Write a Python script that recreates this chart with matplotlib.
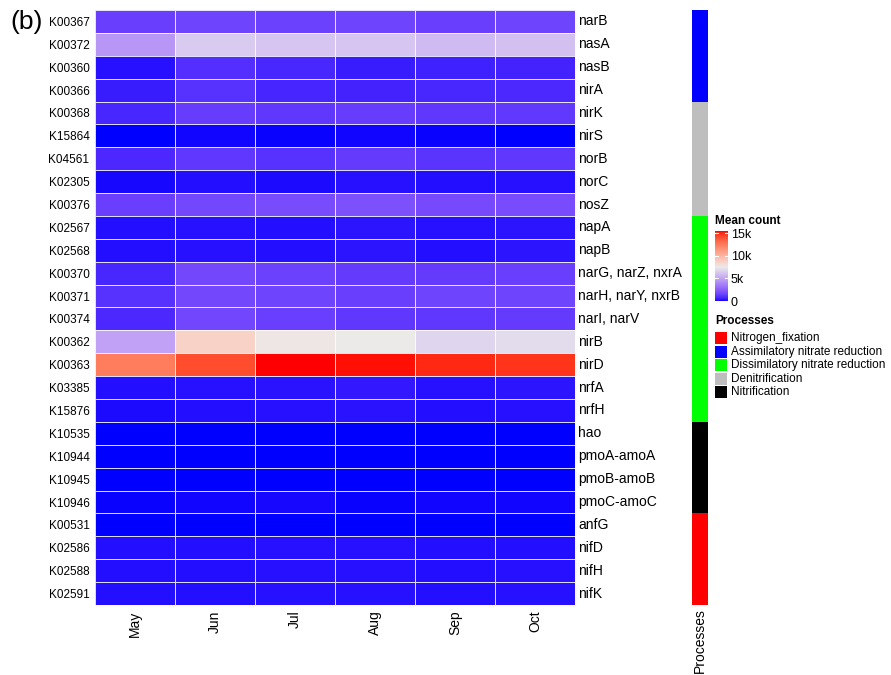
import numpy as np
import matplotlib
matplotlib.use("Agg")
import matplotlib.pyplot as plt
from matplotlib.colors import ListedColormap, Normalize
from matplotlib.patches import Rectangle

plt.rcParams['font.family'] = ['Liberation Sans', 'DejaVu Sans']

months = ["May", "Jun", "Jul", "Aug", "Sep", "Oct"]
ko_ids = ["K00367", "K00372", "K00360", "K00366", "K00368", "K15864", "K04561",
          "K02305", "K00376", "K02567", "K02568", "K00370", "K00371", "K00374",
          "K00362", "K00363", "K03385", "K15876", "K10535", "K10944", "K10945",
          "K10946", "K00531", "K02586", "K02588", "K02591"]
genes = ["narB", "nasA", "nasB", "nirA", "nirK", "nirS", "norB", "norC", "nosZ",
         "napA", "napB", "narG, narZ, nxrA", "narH, narY, nxrB", "narI, narV",
         "nirB", "nirD", "nrfA", "nrfH", "hao", "pmoA-amoA", "pmoB-amoB",
         "pmoC-amoC", "anfG", "nifD", "nifH", "nifK"]
processes = (["Assimilatory nitrate reduction"] * 4 + ["Denitrification"] * 5 +
             ["Dissimilatory nitrate reduction"] * 9 + ["Nitrification"] * 4 +
             ["Nitrogen_fixation"] * 4)

# mean counts, rows = genes, cols = months
counts = np.array([
    [1425, 1575, 1500, 1575, 1425, 1575],
    [4500, 6375, 6150, 6150, 5775, 6000],
    [225, 900, 675, 450, 525, 600],
    [450, 975, 640, 600, 675, 750],
    [675, 1350, 1200, 1350, 1200, 1240],
    [30, 80, 50, 80, 50, 30],
    [750, 1200, 975, 1275, 1050, 1200],
    [110, 190, 150, 225, 190, 225],
    [1425, 1725, 1875, 2025, 1800, 1875],
    [190, 225, 210, 300, 225, 300],
    [190, 225, 210, 300, 200, 300],
    [675, 1725, 1500, 1275, 1275, 1425],
    [975, 1725, 1575, 1425, 1575, 1575],
    [750, 1650, 1425, 1200, 1200, 1275],
    [4875, 8700, 7740, 7550, 6750, 6975],
    [12500, 14200, 15500, 15400, 15100, 14860],
    [190, 225, 260, 340, 225, 300],
    [150, 210, 225, 260, 210, 225],
    [10, 20, 10, 15, 20, 10],
    [10, 30, 20, 15, 30, 20],
    [10, 25, 15, 10, 20, 15],
    [60, 90, 110, 60, 90, 90],
    [10, 15, 10, 10, 15, 10],
    [190, 200, 225, 240, 200, 210],
    [190, 210, 225, 225, 200, 220],
    [190, 210, 225, 240, 200, 225],
])

legend_procs = ["Nitrogen_fixation", "Assimilatory nitrate reduction",
                "Dissimilatory nitrate reduction", "Denitrification", "Nitrification"]
proc_colors = {"Nitrogen_fixation": "#FF0000",
               "Assimilatory nitrate reduction": "#0000FF",
               "Dissimilatory nitrate reduction": "#00FF00",
               "Denitrification": "#BEBEBE",
               "Nitrification": "#000000"}

vmin, vmid, vmax = 0, 7500, 15500


# colour ramp interpolated in LAB space (blue - white - red)
def srgb_to_lab(c):
    c = np.asarray(c, float)
    lin = np.where(c <= 0.04045, c / 12.92, ((c + 0.055) / 1.055) ** 2.4)
    m = np.array([[0.4124, 0.3576, 0.1805],
                  [0.2126, 0.7152, 0.0722],
                  [0.0193, 0.1192, 0.9505]])
    xyz = m @ lin / np.array([0.95047, 1.0, 1.08883])
    f = np.where(xyz > 0.008856, np.cbrt(xyz), 7.787 * xyz + 16 / 116)
    return np.array([116 * f[1] - 16, 500 * (f[0] - f[1]), 200 * (f[1] - f[2])])


def lab_to_srgb(lab):
    L, a, b = lab
    fy = (L + 16) / 116
    f = np.array([fy + a / 500, fy, fy - b / 200])
    xyz = np.where(f > 0.2069, f ** 3, (f - 16 / 116) / 7.787) * np.array([0.95047, 1.0, 1.08883])
    m = np.array([[3.2406, -1.5372, -0.4986],
                  [-0.9689, 1.8758, 0.0415],
                  [0.0557, -0.2040, 1.0570]])
    lin = np.clip(m @ xyz, 0, 1)
    return np.where(lin <= 0.0031308, 12.92 * lin, 1.055 * lin ** (1 / 2.4) - 0.055)


blue_l = srgb_to_lab([0, 0, 1])
white_l = srgb_to_lab([0.92, 0.92, 0.92])
red_l = srgb_to_lab([1, 0, 0])
cols = []
for v in np.linspace(vmin, vmax, 512):
    if v <= vmid:
        t = v / vmid
        cols.append(lab_to_srgb(blue_l + (white_l - blue_l) * t))
    else:
        t = (v - vmid) / (vmax - vmid)
        cols.append(lab_to_srgb(white_l + (red_l - white_l) * t))
cmap = ListedColormap(np.clip(cols, 0, 1))
norm = Normalize(vmin, vmax)

W, H = 891, 675
fig = plt.figure(figsize=(W / 100, H / 100), dpi=100)


def px_axes(x0, y0, x1, y1):
    return fig.add_axes([x0 / W, 1 - y1 / H, (x1 - x0) / W, (y1 - y0) / H])


nrow, ncol = counts.shape
ax = px_axes(95, 10, 575, 605)
ax.pcolormesh(counts, cmap=cmap, norm=norm, edgecolors=(1, 1, 1, 0.85), linewidth=0.6)
ax.set_xlim(0, ncol)
ax.set_ylim(nrow, 0)
for s in ax.spines.values():
    s.set_visible(False)
ax.set_yticks(np.arange(nrow) + 0.5)
ax.set_yticklabels(ko_ids, fontsize=8.5)
ax.set_xticks(np.arange(ncol) + 0.5)
ax.set_xticklabels(months, rotation=90, fontsize=10)
ax.tick_params(length=0, pad=4)
for i, g in enumerate(genes):
    ax.text(ncol + 0.04, i + 0.5, g, fontsize=10, va="center", ha="left")

# process annotation bar
ax2 = px_axes(692, 10, 708, 605)
for i, p in enumerate(processes):
    ax2.add_patch(Rectangle((0, i), 1, 1, facecolor=proc_colors[p], edgecolor="none"))
ax2.set_xlim(0, 1)
ax2.set_ylim(nrow, 0)
ax2.set_xticks([0.5])
ax2.set_xticklabels(["Processes"], rotation=90, fontsize=10)
ax2.set_yticks([])
ax2.tick_params(length=0, pad=2)
for s in ax2.spines.values():
    s.set_visible(False)

# legend: mean count
fig.text(715 / W, 1 - 221 / H, "Mean count", fontsize=8.5, fontweight="bold", va="center")
cax = px_axes(715, 231, 728, 301)
grad = np.linspace(vmin, vmax, 256).reshape(-1, 1)
cax.imshow(grad, cmap=cmap, norm=norm, aspect="auto", origin="lower",
           extent=[0, 1, vmin, vmax])
cax.set_xlim(0, 1)
cax.set_ylim(vmin, vmax)
ticks = [0, 5000, 10000, 15000]
for tk in ticks:
    cax.plot([0, 0.22], [tk, tk], color="white", lw=0.8)
    cax.plot([0.78, 1], [tk, tk], color="white", lw=0.8)
cax.set_xticks([])
cax.yaxis.tick_right()
cax.set_yticks(ticks)
cax.set_yticklabels(["0", "5k", "10k", "15k"], fontsize=9)
cax.tick_params(length=0, pad=2)
for s in cax.spines.values():
    s.set_visible(False)

# legend: processes
fig.text(715 / W, 1 - 321 / H, "Processes", fontsize=8.5, fontweight="bold", va="center")
for k, p in enumerate(legend_procs):
    y = 338 + k * 13.5
    fig.patches.append(Rectangle((715 / W, 1 - (y + 6) / H), 12 / W, 12 / H,
                                 facecolor=proc_colors[p], edgecolor="none",
                                 transform=fig.transFigure, figure=fig))
    fig.text(731 / W, 1 - y / H, p, fontsize=8.5, va="center")

fig.text(10 / W, 1 - 22 / H, "(b)", fontsize=19, va="center")

fig.savefig("out.png", dpi=100)
